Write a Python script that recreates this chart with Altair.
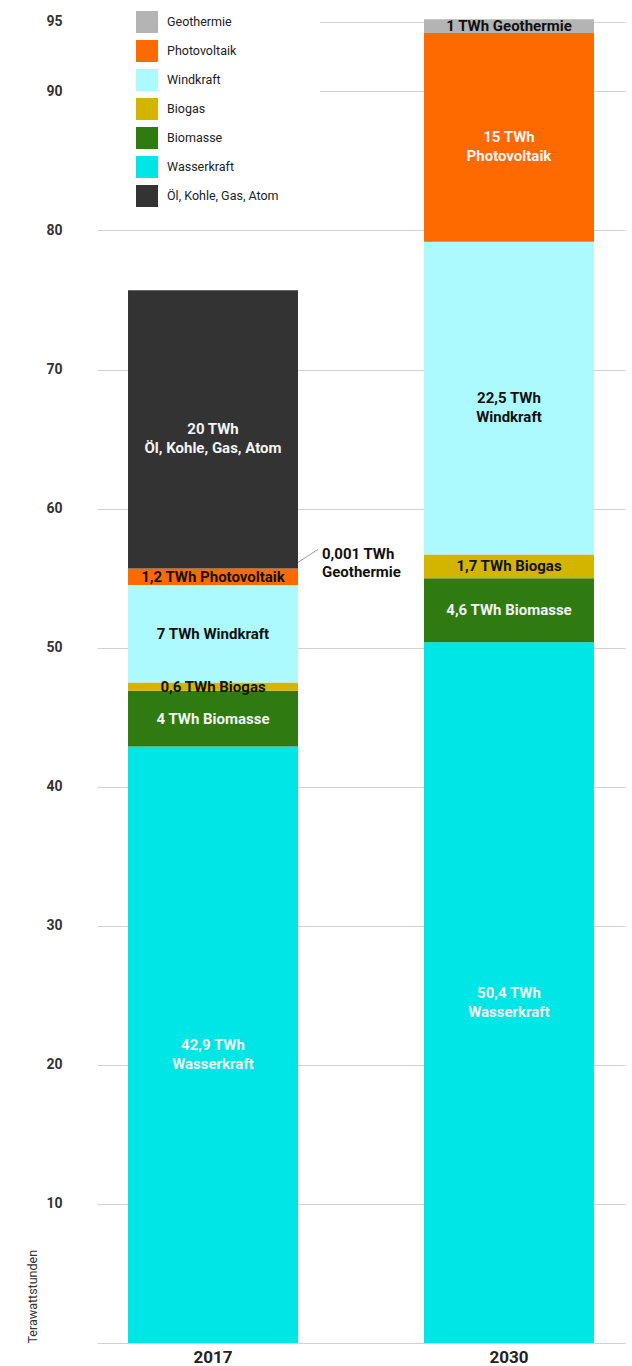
import altair as alt
import pandas as pd

# Stromproduktion nach Quelle, 2017 und 2030 (TWh)
years = ["2017", "2030"]
sources = ["Wasserkraft", "Biomasse", "Biogas", "Windkraft",
           "Photovoltaik", "Geothermie", "Öl, Kohle, Gas, Atom"]
values_2017 = [42.9, 4, 0.6, 7, 1.2, 0.001, 20]
values_2030 = [50.4, 4.6, 1.7, 22.5, 15, 1, 0]

# legend order (top to bottom) and colours
legend_order = ["Geothermie", "Photovoltaik", "Windkraft", "Biogas",
                "Biomasse", "Wasserkraft", "Öl, Kohle, Gas, Atom"]
legend_colors = ["#b4b4b4", "#ff6a00", "#acfafd", "#d3b500",
                 "#2f7b12", "#00e5e5", "#333333"]

# how each segment label is written: 2 = two lines, 1 = one line, 0 = outside the bar
label_lines_2017 = [2, 1, 1, 1, 1, 0, 2]
label_lines_2030 = [2, 1, 1, 2, 2, 1, 0]
# text colour inside each segment
text_on = {"Wasserkraft": "#f4f4f4", "Biomasse": "#f4f4f4", "Biogas": "#111111",
           "Windkraft": "#111111", "Photovoltaik": "#111111",
           "Geothermie": "#111111", "Öl, Kohle, Gas, Atom": "#f4f4f4"}
text_on_2030 = {"Photovoltaik": "#f4f4f4"}

FONT = "Roboto"


def twh(v):
    return f"{v:g}".replace(".", ",") + " TWh"


rows = []
for year, vals, modes in [("2017", values_2017, label_lines_2017),
                          ("2030", values_2030, label_lines_2030)]:
    base = 0.0
    for i, (src, v, m) in enumerate(zip(sources, vals, modes)):
        if v <= 0:
            continue
        if m == 2:
            lab = twh(v) + "\n" + src
        elif m == 1:
            lab = twh(v) + " " + src
        else:
            lab = ""
        tc = text_on_2030.get(src, text_on[src]) if year == "2030" else text_on[src]
        rows.append(dict(year=year, source=src, value=v, order=i,
                         lo=base, hi=base + v, mid=base + v / 2,
                         label=lab, tc=tc,
                         outside=(twh(v) + "\n" + src) if m == 0 else ""))
        base += v
df = pd.DataFrame(rows)

x_enc = alt.X("year:N", sort=years,
              scale=alt.Scale(range=[0, 528], paddingInner=0.4257, paddingOuter=0.1048),
              axis=alt.Axis(title=None, labelAngle=0, domain=False, ticks=False,
                            labelFont=FONT, labelFontSize=17, labelFontWeight="bold",
                            labelColor="#222222", labelPadding=6))

y_scale = alt.Scale(domain=[0, 96], nice=False, zero=True)
y_axis = alt.Axis(title="Terawattstunden", values=[0, 10, 20, 30, 40, 50, 60, 70, 80, 90, 95],
                  labelExpr="datum.value == 0 ? '' : datum.label",
                  domain=False, ticks=False, grid=True, gridColor="#d2d2d2", gridWidth=1,
                  labelFont=FONT, labelFontSize=14, labelFontWeight="bold",
                  labelColor="#333333", labelPadding=35,
                  titleFont=FONT, titleFontSize=12.5, titleFontWeight="normal",
                  titleColor="#333333", titleAngle=-90, titleAlign="left",
                  titleBaseline="middle", titleX=-65, titleY=1335)

base = alt.Chart(df)

# white panel behind the legend
panel = base.mark_rect(fill="white").encode(
    x=alt.value(0), x2=alt.value(223), y=alt.value(0), y2=alt.value(150)
).transform_filter("datum.order == 0 && datum.year == '2017'")

bars = base.mark_bar().encode(
    x=x_enc,
    y=alt.Y("lo:Q", scale=y_scale, axis=y_axis),
    y2="hi:Q",
    color=alt.Color("source:N",
                    scale=alt.Scale(domain=legend_order, range=legend_colors),
                    legend=alt.Legend(title=None, orient="none", legendX=39, legendY=3,
                                      symbolType="square", symbolSize=484,
                                      symbolStrokeWidth=0, rowPadding=7, padding=0,
                                      labelFont=FONT, labelFontSize=12.5,
                                      labelColor="#222222", labelOffset=9)),
    order=alt.Order("order:Q"),
)

labels = base.mark_text(font=FONT, fontSize=15, fontWeight="bold",
                        lineBreak="\n", lineHeight=19, baseline="middle").encode(
    x=alt.X("year:N", sort=years),
    y=alt.Y("mid:Q", scale=y_scale),
    text="label:N",
    color=alt.Color("tc:N", scale=None, legend=None),
).transform_filter("datum.label != ''")

outside = base.mark_text(font=FONT, fontSize=15, fontWeight="bold", align="left",
                         lineBreak="\n", lineHeight=18, baseline="middle",
                         dx=109, dy=-14, color="#111111").encode(
    x=alt.X("year:N", sort=years),
    y=alt.Y("hi:Q", scale=y_scale),
    text="outside:N",
).transform_filter("datum.outside != ''")

leader = base.mark_rule(color="#999999", strokeWidth=1,
                        xOffset=85, x2Offset=105, yOffset=-6, y2Offset=-19).encode(
    x=alt.X("year:N", sort=years),
    x2="year:N",
    y=alt.Y("hi:Q", scale=y_scale),
    y2="hi:Q",
).transform_filter("datum.outside != ''")

chart = alt.layer(panel, bars, labels, outside, leader).resolve_scale(
    color="independent"
).properties(
    width=535, height=1335,
    autosize=alt.AutoSizeParams(type="none"),
    padding={"left": 97, "top": 8, "right": 0, "bottom": 23},
    background="white",
).configure_view(stroke=None)

chart.save("out.html", embed_options={"renderer": "svg", "actions": False})
